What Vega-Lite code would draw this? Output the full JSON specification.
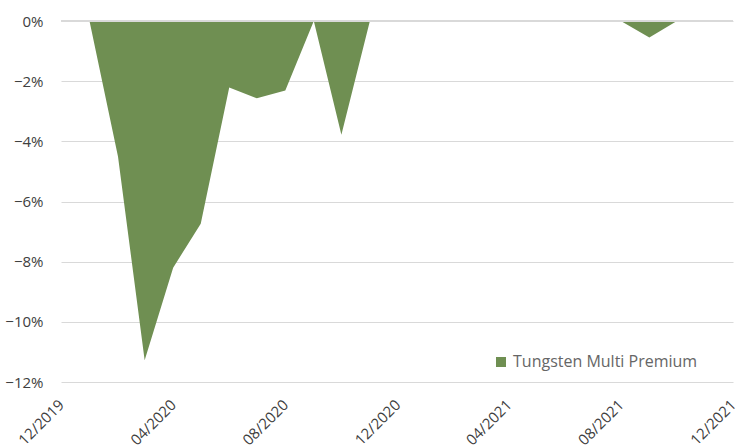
{
  "$schema": "https://vega.github.io/schema/vega-lite/v6.json",
  "autosize": "none",
  "width": 672,
  "height": 361,
  "padding": {"left": 61, "top": 21, "right": 3, "bottom": 66},
  "background": "white",
  "config": {
    "view": {"stroke": null},
    "font": "Open Sans",
    "axis": {"labelFont": "Open Sans", "labelColor": "#404040", "labelFontSize": 15}
  },
  "data": {
    "values": [
      {"date": "2019-12-01", "dd": 0, "series": "Tungsten Multi Premium"},
      {"date": "2020-01-01", "dd": 0, "series": "Tungsten Multi Premium"},
      {"date": "2020-02-01", "dd": -0.045, "series": "Tungsten Multi Premium"},
      {"date": "2020-03-01", "dd": -0.1128, "series": "Tungsten Multi Premium"},
      {"date": "2020-04-01", "dd": -0.082, "series": "Tungsten Multi Premium"},
      {"date": "2020-05-01", "dd": -0.0674, "series": "Tungsten Multi Premium"},
      {"date": "2020-06-01", "dd": -0.0221, "series": "Tungsten Multi Premium"},
      {"date": "2020-07-01", "dd": -0.0257, "series": "Tungsten Multi Premium"},
      {"date": "2020-08-01", "dd": -0.0231, "series": "Tungsten Multi Premium"},
      {"date": "2020-09-01", "dd": 0, "series": "Tungsten Multi Premium"},
      {"date": "2020-10-01", "dd": -0.0378, "series": "Tungsten Multi Premium"},
      {"date": "2020-11-01", "dd": 0, "series": "Tungsten Multi Premium"},
      {"date": "2020-12-01", "dd": 0, "series": "Tungsten Multi Premium"},
      {"date": "2021-01-01", "dd": 0, "series": "Tungsten Multi Premium"},
      {"date": "2021-02-01", "dd": 0, "series": "Tungsten Multi Premium"},
      {"date": "2021-03-01", "dd": 0, "series": "Tungsten Multi Premium"},
      {"date": "2021-04-01", "dd": 0, "series": "Tungsten Multi Premium"},
      {"date": "2021-05-01", "dd": 0, "series": "Tungsten Multi Premium"},
      {"date": "2021-06-01", "dd": 0, "series": "Tungsten Multi Premium"},
      {"date": "2021-07-01", "dd": 0, "series": "Tungsten Multi Premium"},
      {"date": "2021-08-01", "dd": 0, "series": "Tungsten Multi Premium"},
      {"date": "2021-09-01", "dd": -0.0055, "series": "Tungsten Multi Premium"},
      {"date": "2021-10-01", "dd": 0, "series": "Tungsten Multi Premium"},
      {"date": "2021-11-01", "dd": 0, "series": "Tungsten Multi Premium"},
      {"date": "2021-12-01", "dd": 0, "series": "Tungsten Multi Premium"}
    ]
  },
  "layer": [
    {
      "mark": {"type": "area", "interpolate": "linear"},
      "encoding": {
        "x": {
          "field": "date",
          "type": "temporal",
          "scale": {"type": "utc", "domain": [{"year": 2019, "month": 12, "date": 1, "utc": true}, {"year": 2021, "month": 12, "date": 1, "utc": true}]},
          "axis": {
            "title": null,
            "orient": "bottom",
            "domain": false,
            "ticks": false,
            "grid": false,
            "format": "%m/%Y",
            "labelAngle": -45,
            "labelAlign": "right",
            "labelBaseline": "middle",
            "labelPadding": 20,
            "labelOverlap": false,
            "labelBound": false,
            "values": [
              {"year": 2019, "month": 12, "date": 1, "utc": true},
              {"year": 2020, "month": 4, "date": 1, "utc": true},
              {"year": 2020, "month": 8, "date": 1, "utc": true},
              {"year": 2020, "month": 12, "date": 1, "utc": true},
              {"year": 2021, "month": 4, "date": 1, "utc": true},
              {"year": 2021, "month": 8, "date": 1, "utc": true},
              {"year": 2021, "month": 12, "date": 1, "utc": true}
            ]
          }
        },
        "y": {
          "field": "dd",
          "type": "quantitative",
          "scale": {"domain": [-0.12, 0], "nice": false, "zero": false},
          "axis": {
            "title": null,
            "format": ".0%",
            "values": [0, -0.02, -0.04, -0.06, -0.08, -0.1, -0.12],
            "domain": false,
            "ticks": false,
            "labelPadding": 18,
            "gridColor": "#d9d9d9",
            "gridWidth": 1
          }
        },
        "color": {
          "field": "series",
          "type": "nominal",
          "scale": {"range": ["#6f8f52"]},
          "legend": {
            "title": null,
            "orient": "none",
            "legendX": 432,
            "legendY": 333,
            "symbolType": "square",
            "symbolSize": 100,
            "symbolOpacity": 1,
            "labelFont": "Open Sans",
            "labelFontSize": 16,
            "labelLimit": 400,
            "labelColor": "#666666",
            "labelOffset": 4
          }
        }
      }
    },
    {
      "mark": {"type": "rule", "color": "#d9d9d9", "strokeWidth": 1},
      "encoding": {"y": {"datum": 0, "type": "quantitative"}}
    }
  ]
}
